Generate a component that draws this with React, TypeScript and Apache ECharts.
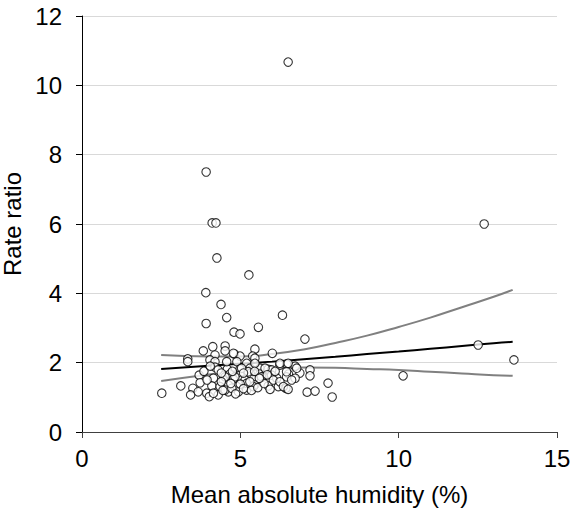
import React, { useEffect, useRef } from "react";
import * as echarts from "echarts";

// Observed points: mean absolute humidity (x) vs rate ratio (y)
const humidity: number[] = [
  6.51, 3.92, 4.11, 4.23, 4.26, 3.91, 5.27, 4.39, 4.57, 3.92,
  4.80, 4.99, 5.57, 6.33, 7.04, 12.70, 12.51, 13.64, 10.14, 6.88,
  7.20, 7.20, 7.77, 7.11, 7.36, 7.90, 3.83, 4.13, 4.52, 4.52,
  4.20, 4.81, 4.99, 5.46, 5.39, 6.01, 3.34, 3.34, 4.04, 4.20,
  4.89, 5.20, 5.46, 4.20, 4.59, 4.99, 5.31, 5.62, 6.25, 6.46,
  6.73, 6.78, 5.88, 5.99, 3.70, 4.48, 4.67, 4.99, 5.31, 5.62,
  5.99, 6.52, 4.15, 4.46, 4.78, 5.04, 5.41, 5.72, 6.15, 6.46,
  6.73, 2.52, 3.12, 3.50, 3.73, 4.10, 4.36, 4.62, 4.89, 5.20,
  5.46, 5.88, 6.20, 6.44, 3.43, 3.94, 4.02, 4.30, 4.62, 4.94,
  5.20, 5.94, 3.67, 4.52, 4.73, 4.78, 4.57, 5.46, 5.78, 5.25,
  5.04, 4.30, 4.52, 4.83, 5.15, 5.67, 6.04, 5.20, 5.41, 4.15,
  6.25, 6.51, 6.46, 6.62, 6.25, 6.36, 6.51, 4.40, 4.70, 5.00,
  5.10, 5.35, 5.55, 5.75, 4.85, 5.30, 4.45, 5.60, 5.10, 4.75,
  4.40, 5.45, 5.85, 6.10, 3.95, 3.85, 4.05,
];
const rateRatio: number[] = [
  10.67, 7.50, 6.03, 6.03, 5.02, 4.02, 4.53, 3.68, 3.30, 3.13,
  2.88, 2.83, 3.02, 3.37, 2.68, 6.00, 2.51, 2.08, 1.62, 1.70,
  1.79, 1.62, 1.41, 1.15, 1.18, 1.01, 2.34, 2.46, 2.48, 2.34,
  2.22, 2.25, 2.19, 2.39, 2.19, 2.27, 2.11, 2.03, 2.08, 2.03,
  2.03, 1.98, 2.13, 1.87, 1.81, 1.81, 1.84, 1.84, 1.93, 1.96,
  1.90, 1.84, 1.81, 1.79, 1.64, 1.64, 1.67, 1.64, 1.69, 1.67,
  1.64, 1.67, 1.55, 1.50, 1.52, 1.50, 1.52, 1.59, 1.55, 1.59,
  1.55, 1.12, 1.33, 1.26, 1.42, 1.33, 1.31, 1.36, 1.31, 1.33,
  1.36, 1.33, 1.31, 1.26, 1.07, 1.12, 1.02, 1.07, 1.16, 1.16,
  1.21, 1.23, 1.16, 1.21, 1.26, 2.27, 2.03, 1.98, 1.84, 1.74,
  1.84, 1.79, 1.59, 1.59, 1.50, 1.59, 1.50, 1.40, 1.31, 1.12,
  1.98, 1.98, 1.74, 1.50, 1.45, 1.31, 1.23, 1.45, 1.40, 1.38,
  1.25, 1.20, 1.28, 1.40, 1.10, 1.45, 1.20, 1.55, 1.70, 1.75,
  1.70, 1.75, 1.65, 1.75, 1.50, 1.75, 1.90,
];

// Fitted curve and 95% confidence band
const curveX: number[] = [2.5, 4, 5, 6, 7, 8, 9, 10, 11, 12, 13, 13.6];
const fitY: number[] = [1.82, 1.91, 1.97, 2.03, 2.10, 2.17, 2.25, 2.32, 2.40, 2.48, 2.56, 2.6];
const upperY: number[] = [2.22, 2.18, 2.18, 2.25, 2.38, 2.57, 2.78, 3.03, 3.3, 3.6, 3.9, 4.1];
const lowerY: number[] = [1.47, 1.66, 1.76, 1.83, 1.86, 1.85, 1.82, 1.79, 1.74, 1.69, 1.64, 1.62];

const xTicks = { min: 0, max: 15, interval: 5 };
const yTicks = { min: 0, max: 12, interval: 2 };

const FONT = "Liberation Sans, Arial, sans-serif";
const FS = 24;

export default function App() {
  const ref = useRef<HTMLDivElement>(null);
  useEffect(() => {
    if (!ref.current) return;
    const chart = echarts.init(ref.current, undefined, { renderer: "svg" });
    const pair = (xs: number[], ys: number[]) => xs.map((x, i) => [x, ys[i]]);
    chart.setOption({
      animation: false,
      backgroundColor: "#ffffff",
      grid: { left: 82, right: 19, top: 16, bottom: 81, containLabel: false, outerBoundsMode: "none" },
      xAxis: {
        type: "value",
        min: xTicks.min,
        max: xTicks.max,
        interval: xTicks.interval,
        name: "Mean absolute humidity (%)",
        nameLocation: "middle",
        nameGap: 50,
        nameTextStyle: { fontFamily: FONT, fontSize: FS, color: "#000" },
        axisLine: { show: true, onZero: false, lineStyle: { color: "#404040", width: 1 } },
        axisTick: { show: true, length: 6, lineStyle: { color: "#404040" } },
        axisLabel: { fontFamily: FONT, fontSize: FS, color: "#000", margin: 14 },
        splitLine: { show: false },
      },
      yAxis: {
        type: "value",
        min: yTicks.min,
        max: yTicks.max,
        interval: yTicks.interval,
        name: "Rate ratio",
        nameLocation: "middle",
        nameGap: 54,
        nameRotate: 90,
        nameTextStyle: { fontFamily: FONT, fontSize: FS, color: "#000" },
        axisLine: { show: true, lineStyle: { color: "#000", width: 1 } },
        axisTick: { show: true, length: 6, lineStyle: { color: "#000" } },
        axisLabel: { fontFamily: FONT, fontSize: FS, color: "#000", margin: 20 },
        splitLine: { show: true, lineStyle: { color: "#d9d9d9", width: 1 } },
      },
      series: [
        {
          type: "line",
          data: pair(curveX, upperY),
          smooth: true,
          showSymbol: false,
          lineStyle: { color: "#808080", width: 2 },
          z: 2,
        },
        {
          type: "line",
          data: pair(curveX, lowerY),
          smooth: true,
          showSymbol: false,
          lineStyle: { color: "#808080", width: 2 },
          z: 2,
        },
        {
          type: "line",
          data: pair(curveX, fitY),
          smooth: true,
          showSymbol: false,
          lineStyle: { color: "#000000", width: 2 },
          z: 3,
        },
        {
          type: "scatter",
          data: pair(humidity, rateRatio),
          symbol: "circle",
          symbolSize: 8.5,
          itemStyle: { color: "#ffffff", borderColor: "#000000", borderWidth: 1.1 },
          z: 5,
        },
      ],
    });
    return () => chart.dispose();
  }, []);
  return <div ref={ref} style={{ width: 576, height: 513, position: "absolute", left: 0, top: 0 }} />;
}
